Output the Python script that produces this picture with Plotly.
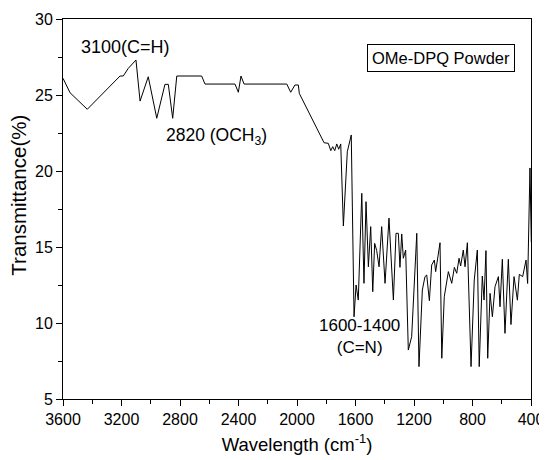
import plotly.graph_objects as go

wavenumber = [3600, 3552, 3434, 3210, 3188, 3153, 3101, 3073, 3017, 2959, 2903, 2880, 2850, 2822,
              2652, 2629, 2424, 2401, 2383, 2362, 2070, 2043, 2014, 1991, 1984, 1815, 1786, 1769,
              1756, 1742, 1728, 1715, 1701, 1683, 1656, 1629, 1610, 1596, 1581, 1557, 1542, 1528,
              1512, 1496, 1482, 1469, 1455, 1439, 1421, 1398, 1371, 1341, 1323, 1307, 1296, 1284,
              1273, 1257, 1239, 1216, 1181, 1166, 1143, 1125, 1113, 1095, 1079, 1061, 1052, 1038,
              1022, 1010, 993, 965, 942, 924, 908, 892, 881, 863, 851, 835, 810, 788, 767, 754,
              733, 721, 708, 696, 680, 664, 646, 623, 612, 596, 578, 555, 537, 516, 493, 480,
              457, 434, 423, 407, 398, 380]
transmittance = [26.1, 25.15, 24.06, 26.25, 26.25, 26.76, 27.3, 24.6, 26.2, 23.47, 25.7, 25.7, 23.47, 26.25,
                 26.25, 25.72, 25.72, 25.18, 26.25, 25.72, 25.72, 25.18, 25.66, 25.66, 25.1, 21.86, 21.82, 21.34,
                 21.6, 21.34, 21.78, 21.43, 21.78, 16.38, 21.27, 22.37, 10.41, 12.5, 11.51, 18.53, 12.61, 17.98,
                 13.7, 16.34, 12.06, 15.24, 14.76, 13.7, 16.34, 12.61, 16.9, 11.51, 15.9, 15.9, 13.66, 15.86,
                 14.26, 14.8, 8.22, 9.1, 15.9, 7.13, 12.17, 13.05, 13.16, 11.47, 13.82, 14.14, 13.38, 14.14,
                 15.28, 7.68, 11.73, 13.38, 12.61, 13.66, 13.27, 14.26, 13.75, 14.8, 13.7, 15.28, 7.13, 12.83, 14.8, 7.13,
                 13.09, 11.51, 14.76, 7.68, 11.95, 10.41, 12.39, 13.05, 11.07, 14.19, 9.32, 14.19, 9.9, 13.05, 11.5, 13.2,
                 13.05, 14.14, 12.6, 20.2, 15.35, 16.4]

x_ticks = [3600, 3200, 2800, 2400, 2000, 1600, 1200, 800, 400]
y_ticks = [5, 10, 15, 20, 25, 30]

FONT = "Liberation Sans, Arial, sans-serif"

fig = go.Figure()
fig.add_trace(go.Scatter(x=wavenumber, y=transmittance, mode="lines",
                         line=dict(color="black", width=1), showlegend=False))

# page has an 8px body margin, so the figure is sized/offset to compensate
fig.update_layout(
    width=539, height=452,
    margin=dict(l=55, r=16, t=11, b=61),
    plot_bgcolor="white", paper_bgcolor="white",
    font=dict(family=FONT, size=16, color="black"),
    showlegend=False,
)
fig.update_xaxes(
    range=[3600, 400], tickvals=x_ticks, ticktext=[str(v) for v in x_ticks],
    automargin=False,
    showgrid=False, zeroline=False, showline=True, linecolor="black", linewidth=1,
    mirror=True, ticks="outside", ticklen=6, tickwidth=1, tickcolor="black",
    minor=dict(dtick=200, ticks="outside", ticklen=4, tickcolor="black", tickwidth=1, tick0=400),
    tickfont=dict(size=16),
    title=dict(text="Wavelength (cm<sup>-1</sup>)", font=dict(size=18.5), standoff=10),
)
fig.update_yaxes(
    range=[5, 30], tickvals=y_ticks,
    automargin=False,
    showgrid=False, zeroline=False, showline=True, linecolor="black", linewidth=1,
    mirror=True, ticks="outside", ticklen=6, tickwidth=1, tickcolor="black",
    minor=dict(dtick=2.5, ticks="outside", ticklen=4, tickcolor="black", tickwidth=1, tick0=5),
    tickfont=dict(size=16),
)

fig.add_annotation(x=-0.094, y=0.535, xref="paper", yref="paper", text="Transmittance(%)",
                   xanchor="center", yanchor="middle",
                   textangle=-90, showarrow=False, font=dict(size=20.5))
fig.add_annotation(x=3176, y=28.16, text="3100(C=H)", showarrow=False, font=dict(size=18))
fig.add_annotation(x=2550, y=22.26, text="2820 (OCH<sub>3</sub>)", showarrow=False, font=dict(size=17.5))
fig.add_annotation(x=1576, y=9.1, text="1600-1400<br>(C=N)", showarrow=False, font=dict(size=17))
fig.add_annotation(x=0.965, y=0.935, xref="paper", yref="paper", xanchor="right", yanchor="top",
                   text="OMe-DPQ Powder", showarrow=False, font=dict(size=16.5),
                   bordercolor="black", borderwidth=1, borderpad=4, bgcolor="white")

fig.write_html("out.html")
